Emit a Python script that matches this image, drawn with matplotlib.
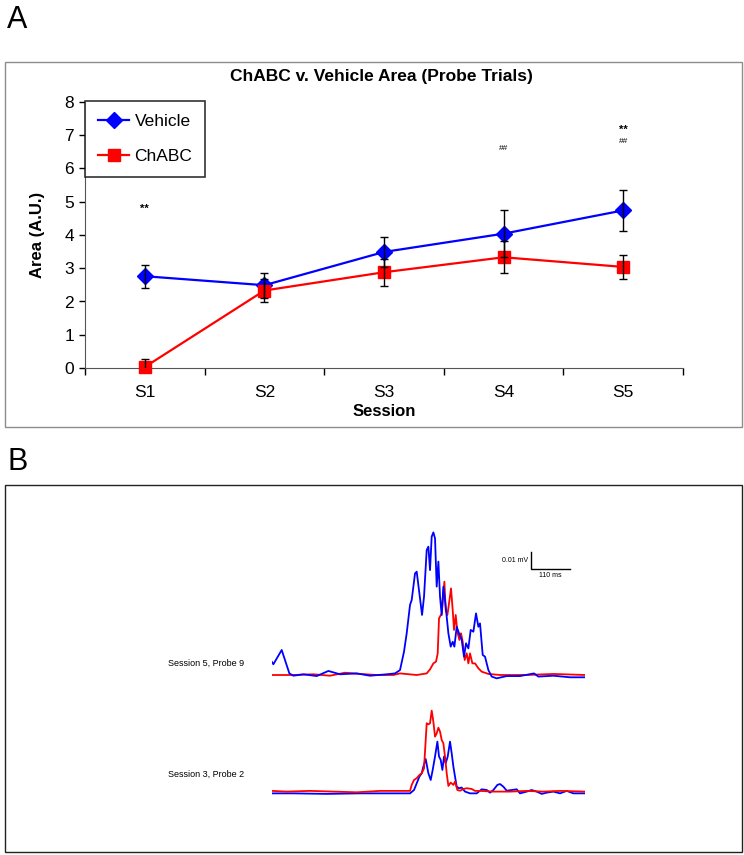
import matplotlib
matplotlib.use("Agg")
import matplotlib.pyplot as plt
from matplotlib.patches import Rectangle
import numpy as np

plt.rcParams['font.family'] = ['Liberation Sans', 'DejaVu Sans']

# ---------------- Panel A data ----------------
sessions = ["S1", "S2", "S3", "S4", "S5"]
vehicle_mean = [2.76, 2.49, 3.49, 4.04, 4.74]
vehicle_err = [0.35, 0.37, 0.45, 0.71, 0.61]
chabc_mean = [0.03, 2.33, 2.88, 3.33, 3.04]
chabc_err = [0.24, 0.35, 0.40, 0.48, 0.35]
sig_labels = [(1, 4.80, "**"), (4, 6.60, "##"), (5, 7.15, "**"), (5, 6.82, "##")]

# ---------------- Panel B data (time in ms, amplitude in uV) ----------------
s5_vehicle_t = [0, 4.7, 28, 49.5, 60.7, 88.7, 126, 158.7, 191.3, 238, 275.3, 322, 345.3, 359.3,
                370.5, 378, 387.3, 392, 401.3, 406, 413.5, 421, 426.5, 434, 438.7, 443.3, 448,
                452.7, 457.3, 462, 466.7, 471.3, 476, 480.7, 485.3, 490, 494.7, 501.2, 506.8,
                511.5, 518, 524.5, 532, 538.5, 544.1, 550.7, 557.2, 564.7, 572.1, 578.7, 583.3,
                590.8, 597.3, 606.7, 616, 630, 658, 695.3, 734.5, 746.7, 788.7, 835.3, 877.3]
s5_vehicle_v = [7.6, 6.1, 14.2, 0.9, -0.4, 0.4, -0.6, 2.3, 0.4, 0.9, -0.4, 0.4, 0.9, 2.8,
                13.3, 23.7, 39.8, 42.6, 57.7, 58.7, 46.4, 34.1, 44.5, 71.0, 72.9, 59.6, 78.6,
                81.0, 77.6, 50.2, 64.4, 44.5, 34.1, 50.2, 42.6, 33.1, 23.7, 16.1, 18.9,
                16.1, 27.4, 23.7, 19.9, 10.4, 18.0, 15.1, 25.6, 24.6, 35.0, 27.4, 29.3,
                11.4, 10.4, 2.8, -0.9, -1.9, -0.6, -0.6, 0.9, -0.9, -0.4, -1.3, -1.3]
s5_chabc_t = [0, 60.7, 116.7, 163.3, 205.3, 247.3, 294, 340.7, 359.3, 406, 434, 443.3, 452.7,
              460.1, 464.8, 468.5, 476, 483.5, 487.2, 491.9, 496.5, 502.1, 506.8, 510.5, 515.2,
              519.9, 525.5, 530.1, 534.8, 540.4, 546, 550.7, 555.3, 561.9, 569.3, 578.7, 588,
              606.7, 639.3, 714, 788.7, 877.3]
s5_chabc_v = [0, 0, 0.4, -0.4, 1.3, 0.6, 0, 0, 0.9, 0, 0.9, 3.2, 6.6,
              7.6, 12.3, 32.2, 35.0, 53.0, 36.9, 34.1, 40.7, 49.2, 36.9, 25.6, 34.1,
              24.6, 19.9, 23.7, 18.9, 8.5, 12.3, 6.6, 12.3, 6.6, 6.6, 3.8, 1.9,
              0.6, 0, 0, 0.6, 0]
s3_chabc_t = [0, 42, 107.3, 172.7, 238, 303.3, 359.3, 387.3, 392, 398.5, 406, 413.5, 420,
              426.5, 434, 438.7, 443.3, 448, 452.7, 457.3, 462, 466.7, 471.3, 476, 480.7,
              485.3, 490, 494.7, 501.2, 508.7, 513.3, 519.9, 527.3, 536.7, 546, 560, 569.3,
              583.3, 620.7, 667.3, 714, 760.7, 807.3, 877.3]
s3_chabc_v = [0.8, 0.4, 0.8, 0.4, 0, 0.8, 0.8, 0.8, 4.2, 7.0, 8.0, 9.8, 10.8,
              13.6, 39.2, 38.6, 39.2, 46.4, 40.1, 31.6, 33.5, 36.7, 34.5, 29.7, 27.8,
              20.3, 10.8, 3.6, 5.5, 4.2, 6.1, 1.3, 0.9, 1.9, 2.3, 1.9, 0.8,
              0.8, 0.4, 0.4, 0.8, 0.4, 0.8, 0.4]
s3_vehicle_t = [0, 60.7, 154, 247.3, 340.7, 387.3, 398.5, 406, 413.5, 420, 424.7, 431.2,
                438.7, 445.2, 450.8, 457.3, 463.9, 468.5, 473.2, 477.9, 482.5, 487.2, 492.8,
                499.3, 504, 508.7, 513.3, 518, 524.5, 532, 541.3, 555.3, 574, 588, 602,
                611.3, 620.7, 631.9, 639.3, 648.7, 658, 672, 686, 695.3, 714, 728, 742, 756,
                770, 788.7, 807.3, 826, 844.7, 877.3]
s3_vehicle_v = [-0.6, -0.6, -0.9, -0.6, -0.6, -0.6, 1.3, 5.1, 8.9, 10.8, 14.6, 18.9,
                10.8, 7.0, 12.7, 20.3, 28.8, 20.3, 18.4, 12.7, 20.3, 16.5, 20.3,
                28.8, 22.1, 14.6, 8.9, 3.2, 2.3, 2.7, 0.4, -0.6, -0.6, 1.7, 1.3,
                -0.2, 1.3, 4.2, 4.7, 3.2, 0.9, 1.3, 1.7, -0.6, 0.4, 1.3, 0.4, -0.9,
                -0.2, 0.4, -0.6, 0.8, -0.6, -0.6]
trace_labels = ["Session 5, Probe 9", "Session 3, Probe 2"]
scale_ms = 110
scale_uv = 10

W, H = 744, 855
fig = plt.figure(figsize=(W / 100, H / 100), dpi=100)

def fx(px):
    return px / W

def fy(py):
    return 1 - py / H

BLUE = "#0000ff"
RED = "#ff0000"

# panel frames
fig.patches.append(Rectangle((fx(5), fy(427)), fx(737), 365 / H, transform=fig.transFigure,
                             fill=False, edgecolor="#8c8c8c", lw=1.0))
fig.patches.append(Rectangle((fx(5), fy(852)), fx(737), 367 / H, transform=fig.transFigure,
                             fill=False, edgecolor="#222222", lw=1.0))
fig.text(fx(7), fy(20), "A", fontsize=22, va="center", ha="left")
fig.text(fx(7), fy(462), "B", fontsize=22, va="center", ha="left")

# ---------------- Panel A ----------------
ax = fig.add_axes([fx(85), fy(368), fx(683 - 85), (368 - 102) / H])
x = np.arange(1, len(sessions) + 1)
ax.plot(x, vehicle_mean, color=BLUE, lw=1.6, marker="D", ms=8, mfc=BLUE, mec=BLUE,
        zorder=3, clip_on=False, label="Vehicle")
ax.plot(x, chabc_mean, color=RED, lw=1.6, marker="s", ms=8, mfc=RED, mec=RED,
        zorder=3, clip_on=False, label="ChABC")
ax.errorbar(x, vehicle_mean, yerr=vehicle_err, fmt="none", ecolor="black", elinewidth=1,
            capsize=3, capthick=1, zorder=4)
ax.errorbar(x, chabc_mean, yerr=chabc_err, fmt="none", ecolor="black", elinewidth=1,
            capsize=3, capthick=1, zorder=4)
for (xi, yi, s) in sig_labels:
    ax.text(xi, yi, s, ha="center", va="center", fontsize=8 if s == "**" else 6,
            fontweight="bold" if s == "**" else "normal")
ax.set_xlim(0.5, 5.5)
ax.set_ylim(0, 8)
ax.set_yticks(range(0, 9))
ax.set_xticks(x)
ax.set_xticklabels(sessions)
ax.set_xticks(np.arange(0.5, 5.6, 1.0), minor=True)
ax.tick_params(axis="x", which="major", length=0, labelsize=12.5, pad=12)
ax.tick_params(axis="x", which="minor", length=5, width=1, direction="out")
ax.tick_params(axis="y", length=4, width=1, labelsize=12.5, direction="out", pad=4)
for sp in ["top", "right"]:
    ax.spines[sp].set_visible(False)
for sp in ["left", "bottom"]:
    ax.spines[sp].set_color("#555555")
ax.set_xlabel("Session", fontsize=12, fontweight="bold", labelpad=3)
ax.set_ylabel("Area (A.U.)", fontsize=12, fontweight="bold", labelpad=14)
fig.text(fx(381), fy(77), "ChABC v. Vehicle Area (Probe Trials)", ha="center", va="center",
         fontsize=12.5, fontweight="bold")
leg = ax.legend(loc="upper left", bbox_to_anchor=(0.0, 1.005), borderaxespad=0, fontsize=12.5,
                frameon=True, fancybox=False, edgecolor="black", labelspacing=1.15,
                handlelength=1.8, handletextpad=0.3, borderpad=0.75)
leg.get_frame().set_linewidth(1.2)

# ---------------- Panel B ----------------
ms_per_px = 2.8
uv_per_px = 0.568
x0_px, x1_px = 271.7, 585.0
top_px, bot_px = 500, 820
base5_px, base3_px = 675, 792.3
axb = fig.add_axes([fx(x0_px), fy(bot_px), fx(x1_px - x0_px), (bot_px - top_px) / H])
axb.set_xlim(0, (x1_px - x0_px) * ms_per_px)
axb.set_ylim((base5_px - bot_px) * uv_per_px, (base5_px - top_px) * uv_per_px)
axb.axis("off")
off3 = (base5_px - base3_px) * uv_per_px
axb.plot(s5_chabc_t, s5_chabc_v, color=RED, lw=1.3, zorder=2)
axb.plot(s5_vehicle_t, s5_vehicle_v, color=BLUE, lw=1.3, zorder=3)
axb.plot(s3_vehicle_t, np.array(s3_vehicle_v) + off3, color=BLUE, lw=1.3, zorder=2)
axb.plot(s3_chabc_t, np.array(s3_chabc_v) + off3, color=RED, lw=1.3, zorder=3)

# scale bar
sb_t = (530.7 - x0_px) * ms_per_px
sb_v = (base5_px - 569.3) * uv_per_px
axb.plot([sb_t, sb_t, sb_t + scale_ms], [sb_v + scale_uv, sb_v, sb_v], color="black", lw=1.0,
         solid_joinstyle="miter")
axb.text(sb_t - 6, sb_v + scale_uv / 2, "0.01 mV", ha="right", va="center", fontsize=5)
axb.text(sb_t + scale_ms / 2, sb_v - 1.5, "%d ms" % scale_ms, ha="center", va="top", fontsize=5)

fig.text(fx(168), fy(663), trace_labels[0], ha="left", va="center", fontsize=6.5)
fig.text(fx(168), fy(774), trace_labels[1], ha="left", va="center", fontsize=6.5)

fig.savefig("out.png", dpi=100)
